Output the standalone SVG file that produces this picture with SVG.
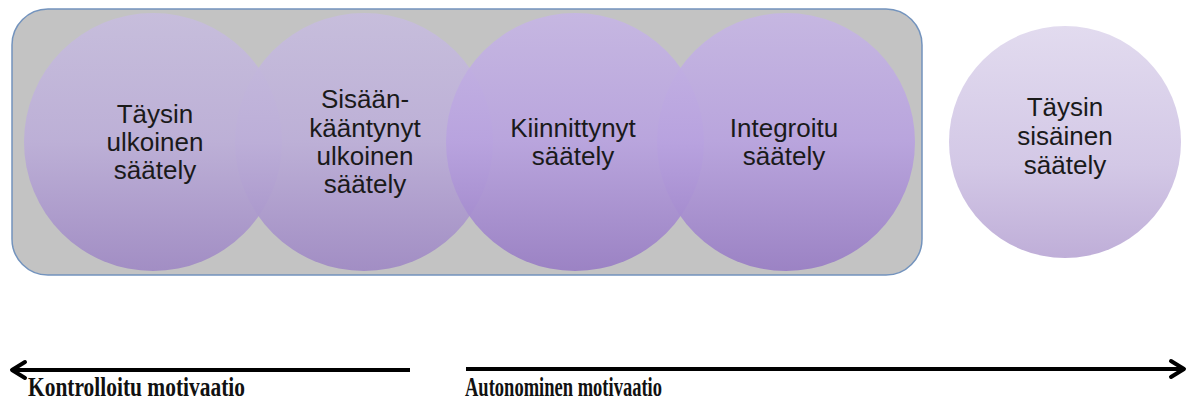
<svg xmlns="http://www.w3.org/2000/svg" width="1188" height="403" viewBox="0 0 1188 403">
<style>
.lbl{font-family:"Liberation Sans",Arial,sans-serif;font-size:26px;fill:#1a1a1a;text-anchor:middle}
.axis{font-family:"Liberation Serif","Times New Roman",serif;font-size:27px;font-weight:bold;fill:#111}
.ln{stroke:#000;stroke-width:4;fill:none}
.hd{stroke:#000;stroke-width:4;fill:none;stroke-linecap:round;stroke-linejoin:round}
</style>
<defs>
<linearGradient id="gA" x1="0" y1="0" x2="0" y2="1">
<stop offset="0" stop-color="#c7bdde"/><stop offset="0.5" stop-color="#bcaed8"/><stop offset="1" stop-color="#9f89c4"/>
</linearGradient>
<linearGradient id="gB" x1="0" y1="0" x2="0" y2="1">
<stop offset="0" stop-color="#c6b6e4"/><stop offset="0.5" stop-color="#b8a2df"/><stop offset="1" stop-color="#987dc4"/>
</linearGradient>
<linearGradient id="gC" x1="0" y1="0" x2="0" y2="1">
<stop offset="0" stop-color="#e2dbef"/><stop offset="0.6" stop-color="#d3c8e6"/><stop offset="1" stop-color="#bfaed8"/>
</linearGradient>
</defs>
<rect width="1188" height="403" fill="#fff"/>
<g id="container">
<rect x="12" y="9" width="910" height="266" rx="36" fill="#c3c3c3" stroke="#7393bd" stroke-width="1.5"/>
</g>
<g id="n1">
<circle cx="153" cy="142" r="129" fill="url(#gA)" opacity="0.92"/>
<text class="lbl" x="155" y="123">Täysin</text>
<text class="lbl" x="155" y="151">ulkoinen</text>
<text class="lbl" x="155" y="179">säätely</text>
</g>
<g id="n2">
<circle cx="364" cy="142" r="129" fill="url(#gA)" opacity="0.92"/>
<text class="lbl" x="365" y="108">Sisään-</text>
<text class="lbl" x="365" y="137">kääntynyt</text>
<text class="lbl" x="365" y="165">ulkoinen</text>
<text class="lbl" x="365" y="193">säätely</text>
</g>
<g id="n3">
<circle cx="575" cy="142" r="129" fill="url(#gB)" opacity="0.92"/>
<text class="lbl" x="573" y="137">Kiinnittynyt</text>
<text class="lbl" x="573" y="165">säätely</text>
</g>
<g id="n4">
<circle cx="786" cy="142" r="129" fill="url(#gB)" opacity="0.92"/>
<text class="lbl" x="784" y="137">Integroitu</text>
<text class="lbl" x="784" y="165">säätely</text>
</g>
<g id="n5">
<circle cx="1065" cy="142" r="116" fill="url(#gC)"/>
<text class="lbl" x="1065" y="116">Täysin</text>
<text class="lbl" x="1065" y="145">sisäinen</text>
<text class="lbl" x="1065" y="174">säätely</text>
</g>
<g id="connectors">
<line class="ln" x1="12" y1="370" x2="410" y2="370"/>
<polyline class="hd" points="25,362 12,370 25,378"/>
<line class="ln" x1="466" y1="369" x2="1184" y2="369"/>
<polyline class="hd" points="1171,361 1184,369 1171,377"/>
</g>
<g id="labels">
<text class="axis" x="28" y="396" textLength="217" lengthAdjust="spacingAndGlyphs">Kontrolloitu motivaatio</text>
<text class="axis" x="465" y="396" textLength="197" lengthAdjust="spacingAndGlyphs">Autonominen motivaatio</text>
</g>
</svg>
